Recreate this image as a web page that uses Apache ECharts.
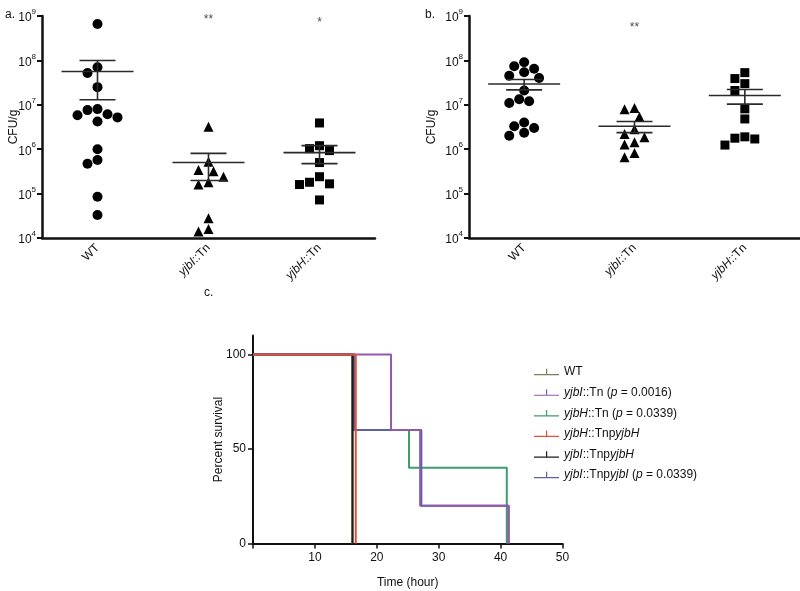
<!DOCTYPE html>
<html><head><meta charset="utf-8">
<script src="https://cdn.jsdelivr.net/npm/echarts@6/dist/echarts.min.js"></script>
<style>html,body{margin:0;padding:0;background:#fff}#c{width:800px;height:591px}</style>
</head><body><div id="c"></div>
<script>
// ---------- data ----------
const groups = ['WT', 'yjbI::Tn', 'yjbH::Tn'];
const groupLabels = ['WT', '{i|yjbI}::Tn', '{i|yjbH}::Tn'];
// panel a (CFU/g)
const aWT = [6.6e8, 7e7, 5.2e7, 2.5e7, 8e6, 7.6e6, 5.8e6, 6.1e6, 5.2e6, 4.2e6, 1e6, 5.7e5, 4.7e5, 8.5e4, 3.3e4];
const aYjbI = [3.2e6, 5.2e5, 3.4e5, 3.2e5, 2.4e5, 1.8e5, 1.6e5, 2.8e4, 1.6e4, 1.4e4];
const aYjbH = [3.9e6, 1.2e6, 1.03e6, 9.3e5, 5e5, 2.4e5, 1.8e5, 1.66e5, 1.6e5, 7.2e4];
// panel b (CFU/g)
const bWT = [9.1e7, 7.4e7, 6.5e7, 5.4e7, 4.5e7, 4.0e7, 2.1e7, 1.33e7, 1.2e7, 1.1e7, 4e6, 3.0e6, 3.3e6, 2.35e6, 2.0e6];
const bYjbI = [7.9e6, 8.5e6, 5.4e6, 2.8e6, 2.2e6, 1.87e6, 1.44e6, 1.28e6, 8.2e5, 6.6e5];
const bYjbH = [5.3e7, 3.9e7, 3.0e7, 2.1e7, 8.1e6, 4.8e6, 1.77e6, 1.24e6, 1.7e6, 1.9e6];
// significance marks
const sigA = ['', '**', '*'];
const sigAVal = [null, 1e9, 8.6e8];
const sigB = ['', '**', ''];
const sigBVal = [null, 6.6e8, null];
// panel c survival
const survNames = ['WT', 'yjbI::Tn (p = 0.0016)', 'yjbH::Tn (p = 0.0339)', 'yjbH::TnpyjbH', 'yjbI::TnpyjbH', 'yjbI::TnpyjbI (p = 0.0339)'];
const survRich = ['WT', '{i|yjbI}::Tn ({i|p} = 0.0016)', '{i|yjbH}::Tn ({i|p} = 0.0339)', '{i|yjbH}::Tnp{i|yjbH}', '{i|yjbI}::Tnp{i|yjbH}', '{i|yjbI}::Tnp{i|yjbI} ({i|p} = 0.0339)'];
const wtTime = [0, 16.0], wtSurv = [100, 0];
const yjbITnTime = [0, 22.3, 27.0, 41.3], yjbITnSurv = [100, 60, 20, 0];
const yjbHTnTime = [0, 16.3, 25.2, 41.0], yjbHTnSurv = [100, 60, 40, 0];
const yjbHCompTime = [0, 16.6], yjbHCompSurv = [100, 0];
const yjbIpHTime = [0, 16.1], yjbIpHSurv = [100, 0];
const yjbICompTime = [0, 16.3, 27.2, 41.3], yjbICompSurv = [100, 60, 20, 0];
const survColors = ['#77805f', '#9158ad', '#3f9d68', '#e4503b', '#1c1c1c', '#5a62aa'];
const survZ = [2, 6, 3, 7, 5, 4];

// ---------- helpers ----------
const FONT = 'Liberation Sans, Arial, sans-serif';
const decadePx = 222 / 5, bandPx = 111;
function swarm(vals, step, diam) {
  const order = vals.map((v, i) => i).sort((a, b) => vals[b] - vals[a]);
  const placed = [], off = new Array(vals.length).fill(0);
  for (const i of order) {
    const y = Math.log10(vals[i]) * decadePx;
    for (let k = 0; k < 60; k++) {
      const o = (k === 0 ? 0 : (k % 2 ? -1 : 1) * Math.ceil(k / 2)) * step;
      if (placed.every(p => Math.hypot(p.x - o, p.y - y) >= diam)) { off[i] = o; placed.push({x: o, y}); break; }
    }
  }
  return off.map(o => o / bandPx);
}
function pts(vals, idx) { const off = swarm(vals, 5, 10); return vals.map((v, i) => [idx + off[i], v]); }
function stats(vals, idx) {
  const n = vals.length, m = vals.reduce((s, v) => s + v, 0) / n;
  const sd = Math.sqrt(vals.reduce((s, v) => s + (v - m) * (v - m), 0) / (n - 1));
  const se = sd / Math.sqrt(n);
  return [idx, m, m - se, m + se];
}
function sigData(txt, val) { return txt.map((t, i) => t ? [i, val[i], t] : null).filter(Boolean); }

const logLabel = {
  fontFamily: FONT, color: '#111', margin: 6,
  formatter: v => '{b|10}{s|' + Math.round(Math.log10(v)) + '}',
  rich: {b: {fontSize: 12, fontFamily: FONT, color: '#111', verticalAlign: 'bottom', lineHeight: 16},
         s: {fontSize: 8, fontFamily: FONT, color: '#111', verticalAlign: 'top', lineHeight: 16}}
};
const thickAxis = {show: true, onZero: false, lineStyle: {color: '#111', width: 2.5}};
function catAxis(grid) {
  return {type: 'category', gridIndex: grid, data: groupLabels,
    axisLine: thickAxis, axisTick: {alignWithLabel: true, length: 5, lineStyle: {width: 2, color: '#111'}},
    axisLabel: {rotate: 45, fontSize: 12, fontFamily: FONT, color: '#111', margin: 8,
      rich: {i: {fontStyle: 'italic', fontSize: 12, fontFamily: FONT, color: '#111'}}},
    splitLine: {show: false}};
}
function hidAxis(grid) { return {type: 'value', gridIndex: grid, min: -0.5, max: 2.5, show: false, axisLine: {onZero: false}}; }
function logAxis(grid, gap) {
  return {type: 'log', logBase: 10, gridIndex: grid, min: 1e4, max: 1e9,
    name: 'CFU/g', nameLocation: 'middle', nameGap: gap, nameRotate: 90, nameMoveOverlap: false,
    nameTextStyle: {fontSize: 12, fontFamily: FONT, color: '#111'},
    axisLine: thickAxis, axisTick: {length: 5, lineStyle: {width: 2, color: '#111'}},
    axisLabel: logLabel, splitLine: {show: false}, minorTick: {show: false}};
}
function errSeries(xi, yi, data) {
  return {type: 'custom', xAxisIndex: xi, yAxisIndex: yi, data, z: 5,
    renderItem: (params, api) => {
      const x = api.value(0);
      const pm = api.coord([x, api.value(1)]), pl = api.coord([x, api.value(2)]), ph = api.coord([x, api.value(3)]);
      const st = {stroke: '#2a2a2a', lineWidth: 1.6};
      return {type: 'group', children: [
        {type: 'line', shape: {x1: pm[0] - 36, y1: pm[1], x2: pm[0] + 36, y2: pm[1]}, style: st},
        {type: 'line', shape: {x1: ph[0] - 18, y1: ph[1], x2: ph[0] + 18, y2: ph[1]}, style: st},
        {type: 'line', shape: {x1: pl[0] - 18, y1: pl[1], x2: pl[0] + 18, y2: pl[1]}, style: st},
        {type: 'line', shape: {x1: pl[0], y1: pl[1], x2: ph[0], y2: ph[1]}, style: st}
      ]};
    }};
}
function dotSeries(xi, yi, data, sym, size) {
  return {type: 'scatter', xAxisIndex: xi, yAxisIndex: yi, data, symbol: sym, symbolSize: size,
    itemStyle: {color: '#000', opacity: 1}, z: 3};
}
function sigSeries(xi, yi, data) {
  return {type: 'scatter', xAxisIndex: xi, yAxisIndex: yi, data, symbolSize: 0,
    label: {show: true, position: 'inside', offset: [0, 4], formatter: p => p.value[2], fontSize: 12, fontFamily: FONT, color: '#222'}};
}
function survSeries(i, t, s) {
  return {type: 'line', name: survNames[i], xAxisIndex: 4, yAxisIndex: 2, step: 'end', z: survZ[i],
    data: t.map((x, k) => [x, s[k]]), showSymbol: false, symbol: 'none',
    lineStyle: {width: 2, color: survColors[i]}, itemStyle: {color: survColors[i]}};
}

const option = {
  animation: false,
  backgroundColor: '#fff',
  textStyle: {fontFamily: FONT},
  title: [
    {text: 'a.', left: 0, top: 4, textStyle: {fontSize: 12, fontWeight: 'normal', fontFamily: FONT, color: '#111'}},
    {text: 'b.', left: 420, top: 4, textStyle: {fontSize: 12, fontWeight: 'normal', fontFamily: FONT, color: '#111'}},
    {text: 'c.', left: 199, top: 282, textStyle: {fontSize: 12, fontWeight: 'normal', fontFamily: FONT, color: '#111'}}
  ],
  grid: [
    {left: 42, top: 16, width: 333, height: 222},
    {left: 469, top: 16, width: 331, height: 222},
    {left: 253, top: 335.5, width: 309.5, height: 208}
  ],
  xAxis: [catAxis(0), hidAxis(0), catAxis(1), hidAxis(1),
    {type: 'value', gridIndex: 2, min: 0, max: 50, interval: 10,
      name: 'Time (hour)', nameLocation: 'middle', nameGap: 33, nameMoveOverlap: false,
      nameTextStyle: {fontSize: 12, fontFamily: FONT, color: '#111'},
      axisLine: {show: true, onZero: false, lineStyle: {color: '#111', width: 2}},
      axisTick: {show: true, length: 5, lineStyle: {width: 1.5, color: '#111'}, customValues: [0, 10, 20, 30, 40, 50]},
      axisLabel: {fontSize: 12, fontFamily: FONT, color: '#111', margin: 8, customValues: [10, 20, 30, 40, 50]},
      splitLine: {show: false}}],
  yAxis: [logAxis(0, 22), logAxis(1, 31),
    {type: 'value', gridIndex: 2, min: 0, max: 110, interval: 50,
      name: 'Percent survival', nameLocation: 'middle', nameGap: 28, nameRotate: 90, nameMoveOverlap: false,
      nameTextStyle: {fontSize: 12, fontFamily: FONT, color: '#111'},
      axisLine: {show: true, onZero: false, lineStyle: {color: '#111', width: 2}},
      axisTick: {show: true, length: 5, lineStyle: {width: 1.5, color: '#111'}, customValues: [0, 50, 100]},
      axisLabel: {fontSize: 12, fontFamily: FONT, color: '#111', margin: 7, customValues: [0, 50, 100]},
      splitLine: {show: false}}],
  legend: {
    orient: 'vertical', left: 529, top: 360, itemWidth: 25, itemHeight: 8, itemGap: 6.6,
    icon: 'path://M0,6.8h25v1.2h-25z M12,1.5h1.2v5.3h-1.2z',
    data: survNames,
    formatter: n => survRich[survNames.indexOf(n)],
    textStyle: {fontSize: 12, fontFamily: FONT, color: '#111', lineHeight: 14,
      rich: {i: {fontStyle: 'italic', fontSize: 12, fontFamily: FONT, color: '#111'}}}
  },
  series: [
    dotSeries(1, 0, pts(aWT, 0), 'circle', 10),
    dotSeries(1, 0, pts(aYjbI, 1), 'triangle', 10),
    dotSeries(1, 0, pts(aYjbH, 2), 'rect', 9),
    errSeries(1, 0, [stats(aWT, 0), stats(aYjbI, 1), stats(aYjbH, 2)]),
    sigSeries(1, 0, sigData(sigA, sigAVal)),
    dotSeries(3, 1, pts(bWT, 0), 'circle', 10),
    dotSeries(3, 1, pts(bYjbI, 1), 'triangle', 10),
    dotSeries(3, 1, pts(bYjbH, 2), 'rect', 9),
    errSeries(3, 1, [stats(bWT, 0), stats(bYjbI, 1), stats(bYjbH, 2)]),
    sigSeries(3, 1, sigData(sigB, sigBVal)),
    survSeries(0, wtTime, wtSurv),
    survSeries(1, yjbITnTime, yjbITnSurv),
    survSeries(2, yjbHTnTime, yjbHTnSurv),
    survSeries(3, yjbHCompTime, yjbHCompSurv),
    survSeries(4, yjbIpHTime, yjbIpHSurv),
    survSeries(5, yjbICompTime, yjbICompSurv)
  ]
};
const chart = echarts.init(document.getElementById('c'), null, {renderer: 'canvas'});
chart.setOption(option);
</script></body></html>
